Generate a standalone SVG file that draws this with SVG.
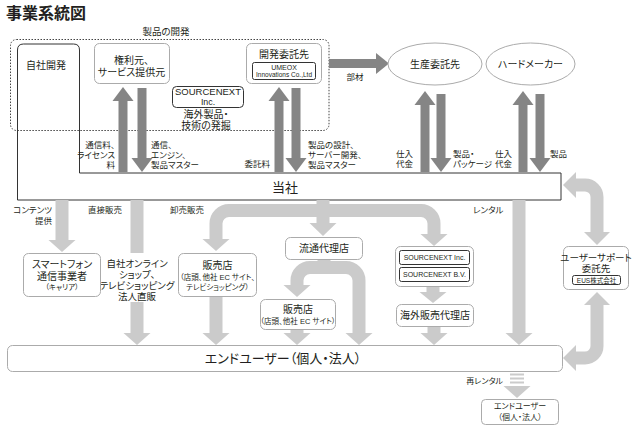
<svg xmlns="http://www.w3.org/2000/svg" width="636" height="429" viewBox="0 0 636 429">
<defs>
<style>
text{font-family:"Liberation Sans","Noto Sans CJK JP",sans-serif;fill:#231f20;font-feature-settings:"palt";}
.en{font-feature-settings:normal;}
.n{font-size:10px;}
.n2{font-size:9.5px;}
.s{font-size:7.5px;}
.e{font-size:8.5px;}
.m{text-anchor:middle;}
.end{text-anchor:end;}
.lb{fill:#fff;stroke:#ababab;stroke-width:1;}
.db{fill:#fff;stroke:#333;stroke-width:1;}
.dk{stroke:#858585;stroke-width:9;fill:none;}
.dkh{fill:#858585;}
.lt{stroke:#cbcbcb;stroke-width:13;fill:none;}
.lth{fill:#cbcbcb;}
</style>
</defs>
<rect width="636" height="429" fill="#fff"/>
<text x="6" y="19" style="font-size:16px;font-weight:bold">事業系統図</text>

<g id="dev-area">
<rect x="10.5" y="39.5" width="318.5" height="91" rx="6" fill="none" stroke="#444" stroke-width="1" stroke-dasharray="1.5,1.5"/>
<text x="166" y="35" class="m" style="font-size:9.5px">製品の開発</text>
</g>

<g id="tousha">
<path d="M17.5 50 Q17.5 44 23.5 44 H73.5 Q79.5 44 79.5 50 V173 H561 V200 H17.5 Z" fill="none" stroke="#333" stroke-width="1"/>
<text x="46" y="68.5" class="n m">自社開発</text>
<text x="285" y="192" class="m" style="font-size:13px">当社</text>
</g>

<g id="connectors">
<path class="dk" d="M123 172 V100"/><polygon class="dkh" points="112.5,101 133.5,101 123,87"/>
<path class="dk" d="M142 88 V159"/><polygon class="dkh" points="131.5,158 152.5,158 142,172"/>
<path class="dk" d="M279 172 V100"/><polygon class="dkh" points="268.5,101 289.5,101 279,87"/>
<path class="dk" d="M296 88 V159"/><polygon class="dkh" points="285.5,158 306.5,158 296,172"/>
<path class="dk" d="M425 172 V104"/><polygon class="dkh" points="414.5,105 435.5,105 425,91"/>
<path class="dk" d="M441 94 V159"/><polygon class="dkh" points="430.5,158 451.5,158 441,172"/>
<path class="dk" d="M523 172 V104"/><polygon class="dkh" points="512.5,105 533.5,105 523,91"/>
<path class="dk" d="M540 94 V159"/><polygon class="dkh" points="529.5,158 550.5,158 540,172"/>
<path class="dk" d="M329 63.5 H377"/><polygon class="dkh" points="376,53 376,74 389,63.5"/>

<path class="lt" d="M62 200 V241"/><polygon class="lth" points="48.5,240 75.5,240 62,252"/>
<path class="lt" d="M137 200 V253 M137 302 V334"/><polygon class="lth" points="123.5,333 150.5,333 137,345"/>
<path class="lt" d="M323 200 V224 M323 210.5 H229 A13 13 0 0 0 216 223.5 V240 M323 210.5 H421 A13 13 0 0 1 434 223.5 V235"/>
<polygon class="lth" points="309.5,223 336.5,223 323,236"/>
<polygon class="lth" points="202.5,239 229.5,239 216,251"/>
<polygon class="lth" points="420.5,234 447.5,234 434,246"/>
<path class="lt" d="M216 296 V334"/><polygon class="lth" points="202.5,333 229.5,333 216,345"/>
<path class="lt" d="M324 260 V268 M324 267.5 H310 A13 13 0 0 0 297 280.5 V286 M324 267.5 H346 A13 13 0 0 1 359 280.5 V334"/>
<polygon class="lth" points="283.5,285 310.5,285 297,297"/>
<polygon class="lth" points="345.5,333 372.5,333 359,345"/>
<path class="lt" d="M297 329 V334"/><polygon class="lth" points="283.5,333 310.5,333 297,345"/>
<path class="lt" d="M433 286 V293"/><polygon class="lth" points="419.5,292 446.5,292 433,303"/>
<path class="lt" d="M434 326 V334"/><polygon class="lth" points="420.5,333 447.5,333 434,345"/>
<path class="lt" d="M519 200 V334"/><polygon class="lth" points="505.5,333 532.5,333 519,345"/>
<path d="M510 374.5 H524 M510 378.5 H524 M510 382.5 H524" stroke="#cbcbcb" stroke-width="2" fill="none"/>
<polygon class="lth" points="503.5,386 530.5,386 517,398"/>
<path class="lt" d="M575 185 H585 A12 12 0 0 1 597 197 V233"/>
<polygon class="lth" points="576,172 576,198 563,185"/>
<polygon class="lth" points="584,232 610,232 597,245"/>
<path class="lt" d="M597 304 V346 A12 12 0 0 1 585 358 H575"/>
<polygon class="lth" points="584,305 610,305 597,292"/>
<polygon class="lth" points="576,345 576,371 563,358"/>

<text class="e end" x="115" y="147.5">通信料、</text>
<text class="e end" x="115" y="157.5">ライセンス</text>
<text class="e end" x="115" y="167.5">料</text>
<text class="e" x="151" y="147.5">通信、</text>
<text class="e" x="151" y="157.5">エンジン、</text>
<text class="e" x="151" y="167.5">製品マスター</text>
<text class="e end" x="270" y="167">委託料</text>
<text class="e" x="308" y="147.5">製品の設計、</text>
<text class="e" x="308" y="157.5">サーバー開発、</text>
<text class="e" x="308" y="167.5">製品マスター</text>
<text class="e end" x="413" y="156.5">仕入</text>
<text class="e end" x="413" y="166.5">代金</text>
<text class="e" x="453" y="156.5">製品・</text>
<text class="e" x="453" y="166.5">パッケージ</text>
<text class="e end" x="512" y="156.5">仕入</text>
<text class="e end" x="512" y="166.5">代金</text>
<text class="e" x="550" y="156.5">製品</text>
<text class="e m" x="355" y="80">部材</text>
<text class="e end" x="52" y="213">コンテンツ</text>
<text class="e end" x="52" y="223.5">提供</text>
<text class="e" x="88" y="213">直接販売</text>
<text class="e" x="170" y="213">卸売販売</text>
<text class="e" x="473" y="213">レンタル</text>
<text class="e end" x="503" y="384" style="font-size:8px">再レンタル</text>
<text class="n2 m" x="137" y="267">自社オンライン</text>
<text class="n2 m" x="137" y="278">ショップ、</text>
<text class="n2 m" x="137" y="289">テレビショッピング</text>
<text class="n2 m" x="137" y="300">法人直販</text>
</g>

<g id="kenri">
<rect class="lb" x="94.5" y="43.5" width="75" height="40" rx="5"/>
<text class="n m" x="131.5" y="64">権利元、</text>
<text class="n m" x="131.5" y="76">サービス提供元</text>
</g>

<g id="sourcenext-top">
<rect class="db" x="172.5" y="86.5" width="71" height="21" rx="4"/>
<text class="en m" x="208" y="95" style="font-size:8.8px" textLength="66" lengthAdjust="spacingAndGlyphs">SOURCENEXT</text>
<text class="en m" x="208" y="105" style="font-size:8.8px">Inc.</text>
<text class="n m" x="206" y="118">海外製品・</text>
<text class="n m" x="206" y="129">技術の発掘</text>
</g>

<g id="kaihatsu">
<rect class="lb" x="246.5" y="43.5" width="75" height="40" rx="5"/>
<text class="n m" x="284" y="57.5">開発委託先</text>
<rect class="db" x="252.5" y="62.5" width="63" height="17" rx="2"/>
<text class="en m" x="284" y="69.5" style="font-size:7px">UMEOX</text>
<text class="en m" x="284" y="77" style="font-size:6.5px">Innovations Co.,Ltd</text>
</g>

<g id="seisan">
<ellipse cx="435" cy="64" rx="47" ry="21" fill="#fff" stroke="#ababab"/>
<text class="n m" x="435" y="67.5">生産委託先</text>
</g>

<g id="hard">
<ellipse cx="530.5" cy="64" rx="44.5" ry="21" fill="#fff" stroke="#ababab"/>
<text class="n m" x="530.5" y="67.5">ハードメーカー</text>
</g>

<g id="carrier">
<rect class="lb" x="23.5" y="253.5" width="77" height="43" rx="5"/>
<text class="n m" x="62" y="268">スマートフォン</text>
<text class="n m" x="62" y="279.5">通信事業者</text>
<text class="s m" x="62" y="290">（キャリア）</text>
</g>

<g id="hanbai1">
<rect class="lb" x="178.5" y="253.5" width="78" height="43" rx="5"/>
<text class="n m" x="217.5" y="268.5">販売店</text>
<text class="s m" x="217.5" y="279.5">（店頭、他社 EC サイト、</text>
<text class="s m" x="217.5" y="289.5">テレビショッピング）</text>
</g>

<g id="ryutsu">
<rect class="lb" x="285.5" y="237.5" width="77" height="22" rx="5"/>
<text class="n m" x="324" y="252">流通代理店</text>
</g>

<g id="hanbai2">
<rect class="lb" x="260.5" y="299.5" width="75" height="30" rx="5"/>
<text class="n m" x="298" y="313">販売店</text>
<text class="s m" x="298" y="324">（店頭、他社 EC サイト）</text>
</g>

<g id="sn-group">
<rect class="lb" x="395.5" y="246.5" width="78" height="40" rx="5"/>
<rect class="db" x="399.5" y="250.5" width="70" height="14" rx="2"/>
<text class="en m" x="434.5" y="260" style="font-size:7px">SOURCENEXT Inc.</text>
<rect class="db" x="399.5" y="267.5" width="70" height="14" rx="2"/>
<text class="en m" x="434.5" y="277" style="font-size:7px">SOURCENEXT B.V.</text>
</g>

<g id="kaigai">
<rect class="lb" x="396.5" y="304.5" width="77" height="22" rx="5"/>
<text class="n m" x="435" y="319">海外販売代理店</text>
</g>

<g id="support">
<rect class="lb" x="563.5" y="246.5" width="65" height="43" rx="5"/>
<text class="n2 m" x="596" y="260.5">ユーザーサポート</text>
<text class="n2 m" x="596" y="271.5">委託先</text>
<rect class="db" x="572.5" y="275.5" width="48" height="9" rx="2"/>
<text class="m" x="596.5" y="283" style="font-size:6.5px">EUS株式会社</text>
</g>

<g id="enduser">
<rect class="lb" x="7.5" y="345.5" width="555" height="26" rx="5"/>
<text class="m" x="283" y="363" style="font-size:13px">エンドユーザー（個人・法人）</text>
</g>

<g id="enduser2">
<rect class="lb" x="481.5" y="399.5" width="77" height="25" rx="4"/>
<text class="m" x="520" y="409" style="font-size:8px">エンドユーザー</text>
<text class="m" x="520" y="420" style="font-size:8px">（個人・法人）</text>
</g>
</svg>
